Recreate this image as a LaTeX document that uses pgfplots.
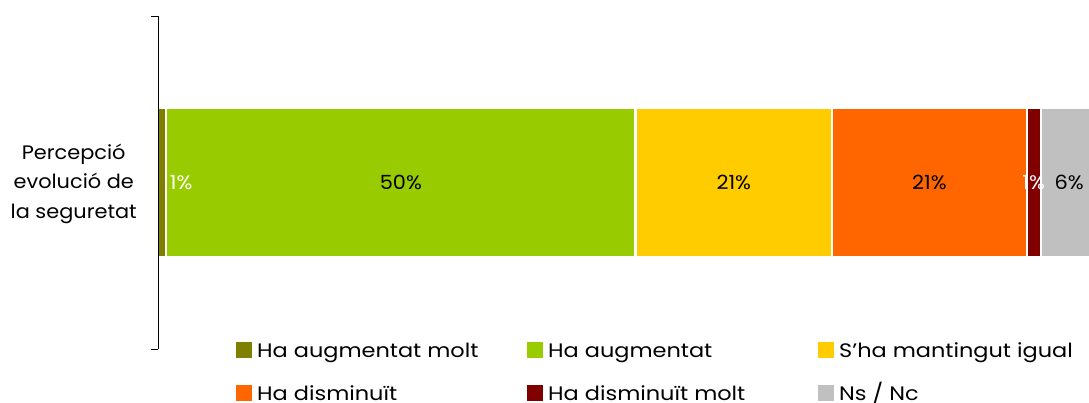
\documentclass[border=0pt]{standalone}
\usepackage{pgfplots}
\pgfplotsset{compat=1.18}
\usepackage{fontspec}
\setmainfont{Poppins}[FakeStretch=1.15]
\newfontfamily\lblfont{Poppins}[FakeStretch=1.07]
\definecolor{cOlive}{HTML}{808000}
\definecolor{cGreen}{HTML}{99CC00}
\definecolor{cYellow}{HTML}{FFCC00}
\definecolor{cOrange}{HTML}{FF6600}
\definecolor{cDRed}{HTML}{800000}
\definecolor{cGrey}{HTML}{C0C0C0}
\newcommand{\cf}{\fontsize{19.5}{29.5}\selectfont}
\newcommand{\cfl}{\lblfont\fontsize{19.5}{29.5}\selectfont}
\newcommand{\legtxt}[1]{\raisebox{4.5pt}{\makebox[270pt][l]{#1}}}
\pgfplotsset{sqlegend/.style={legend image code/.code={\path[##1, draw=none] (0pt,-1.5pt) rectangle (16pt,15pt);}}}
\begin{document}
\begin{tikzpicture}
\useasboundingbox (0,0) rectangle (1089pt,403pt);
\clip (0,0) rectangle (1089pt,403pt);
\begin{axis}[
  at={(158pt,54pt)}, anchor=south west,
  scale only axis, width=947pt, height=333pt,
  xbar stacked, bar width=149pt,
  xmin=0, xmax=100, ymin=-0.5, ymax=0.5,
  enlargelimits=false,
  axis x line=none, axis y line*=left,
  ytick={-0.5,0.5}, yticklabels={},
  tick align=outside, major tick length=7pt,
  y axis line style={black, line width=0.8pt},
  ytick style={black, line width=0.8pt},
  extra y ticks={0},
  extra y tick labels={Percepció\\evolució de\\la seguretat},
  extra y tick style={major tick length=0pt, yticklabel style={align=center, font=\cfl, inner sep=0pt, xshift=-21pt, yshift=-1pt}},
  axis on top,
  /pgf/number format/assume math mode=true,
  every axis plot/.append style={draw=white, line width=2.2pt},
  nodes near coords={\pgfmathprintnumber[fixed,precision=0]{\pgfplotspointmeta}\%},
  every node near coord/.append style={font=\cfl, text=black},
  legend columns=3,
  legend style={draw=none, fill=none, inner sep=0pt, at={(0.0824,0.022)}, anchor=north west, font=\cf, row sep=18pt,
    nodes={inner sep=0pt, text height=15pt, text depth=5pt},
    /tikz/every odd column/.style={column sep=5pt},
    /tikz/every even column/.style={column sep=0pt}},
]
\addplot[fill=cOlive, sqlegend, every node near coord/.append style={text=white, xshift=19pt}] coordinates {(0.87,0)};
\addlegendentry{\legtxt{Ha augmentat molt}}
\addplot[fill=cGreen, sqlegend] coordinates {(49.56,0)};
\addlegendentry{\legtxt{Ha augmentat}}
\addplot[fill=cYellow, sqlegend] coordinates {(20.75,0)};
\addlegendentry{\legtxt{S'ha mantingut igual}}
\addplot[fill=cOrange, sqlegend] coordinates {(20.55,0)};
\addlegendentry{\legtxt{Ha disminuït}}
\addplot[fill=cDRed, sqlegend, every node near coord/.append style={text=white}] coordinates {(1.49,0)};
\addlegendentry{\legtxt{Ha disminuït molt}}
\addplot[fill=cGrey, sqlegend] coordinates {(6.0,0)};
\addlegendentry{\legtxt{Ns / Nc}}
\end{axis}
\end{tikzpicture}
\end{document}
